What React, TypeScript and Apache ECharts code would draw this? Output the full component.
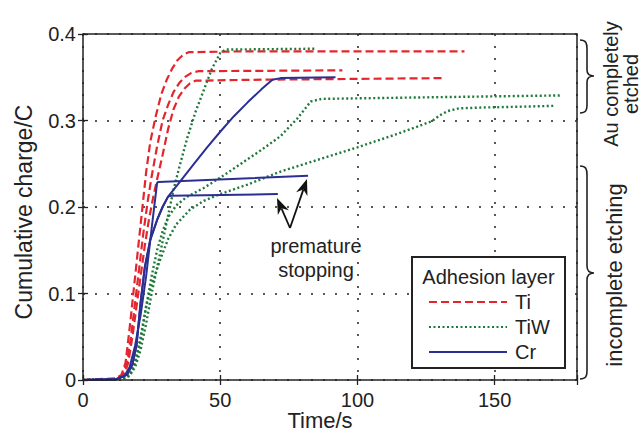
import React, { useEffect, useRef } from "react";
import * as echarts from "echarts";

// ---- data (time in s, cumulative charge in C) ----
const xTickValues = [0, 50, 100, 150];
const yTickValues = [0, 0.1, 0.2, 0.3, 0.4];
const legendNames = ["Ti", "TiW", "Cr"];

const ti1: [number, number][] = [
  [0, 0], [12, 0.002], [14, 0.006], [15.5, 0.02], [17, 0.06], [18.5, 0.105], [20, 0.15],
  [21.5, 0.195], [23, 0.24], [24.5, 0.275], [26.5, 0.305], [28.5, 0.33], [30.5, 0.347],
  [32.5, 0.36], [34.5, 0.37], [36.5, 0.376], [38.5, 0.379], [60, 0.38], [139, 0.38],
];
const ti2: [number, number][] = [
  [0, 0], [12, 0.001], [14.5, 0.006], [16, 0.02], [17.5, 0.05], [19, 0.09], [20.5, 0.13],
  [22, 0.17], [23.5, 0.205], [25, 0.235], [27, 0.27], [29, 0.3], [31, 0.318], [33, 0.333],
  [35, 0.343], [37, 0.35], [39.5, 0.355], [42, 0.357], [94.5, 0.358],
];
const ti3: [number, number][] = [
  [0, 0], [12, 0.001], [15, 0.006], [16.5, 0.02], [18, 0.05], [19.5, 0.085], [21, 0.12],
  [22.5, 0.155], [24, 0.185], [25.5, 0.21], [27, 0.232], [29, 0.26], [31, 0.29], [33, 0.313],
  [35, 0.328], [37, 0.337], [39, 0.343], [41, 0.346], [60, 0.347], [131, 0.349],
];
const tiw1: [number, number][] = [
  [0, 0], [14, 0.001], [17, 0.005], [19, 0.015], [21, 0.035], [23, 0.065], [25, 0.1],
  [27, 0.13], [29, 0.16], [31, 0.19], [33, 0.22], [35, 0.245], [38, 0.28], [41, 0.31],
  [44, 0.335], [47, 0.36], [50, 0.378], [52, 0.382], [85, 0.383],
];
const tiw2: [number, number][] = [
  [0, 0], [14, 0.001], [17, 0.006], [19, 0.02], [21, 0.05], [23, 0.085], [25, 0.12],
  [27, 0.15], [29, 0.172], [31, 0.188], [34, 0.202], [38, 0.212], [44, 0.222], [51, 0.236],
  [58, 0.251], [65, 0.266], [72, 0.282], [78, 0.302], [83, 0.322], [87, 0.325], [130, 0.327],
  [174, 0.329],
];
const tiw3: [number, number][] = [
  [0, 0], [14, 0.001], [17, 0.005], [19, 0.02], [21, 0.045], [23, 0.085], [25, 0.11],
  [28, 0.138], [31, 0.163], [34, 0.18], [39, 0.197], [44, 0.207], [50, 0.215], [60, 0.226],
  [72, 0.241], [85, 0.254], [100, 0.269], [115, 0.285], [127, 0.299], [130, 0.306],
  [133, 0.311], [137, 0.314], [145, 0.315], [160, 0.316], [172, 0.317],
];
const cr1: [number, number][] = [
  [0, 0], [12, 0.001], [16, 0.006], [18, 0.018], [19.5, 0.04], [21, 0.09], [22.5, 0.13],
  [24.5, 0.162], [27, 0.185], [29, 0.2], [31, 0.212], [35, 0.228], [40, 0.248], [45, 0.268],
  [50, 0.287], [55, 0.305], [60, 0.321], [65, 0.336], [69, 0.347], [72, 0.349], [92, 0.35],
];
const cr2: [number, number][] = [
  [0, 0], [12, 0.001], [15, 0.004], [17, 0.015], [19, 0.04], [21, 0.075], [23, 0.12],
  [25, 0.175], [27, 0.228], [27.5, 0.229], [82, 0.236],
];
const cr3: [number, number][] = [
  [0, 0], [12, 0.001], [16, 0.006], [18, 0.018], [19.5, 0.04], [21, 0.09], [22.5, 0.13],
  [24.5, 0.162], [27, 0.185], [29, 0.2], [31, 0.212], [32, 0.213], [71, 0.215],
];

const FONT = "Liberation Sans, Arial, sans-serif";
const TXT = "#222";

export default function App() {
  const ref = useRef<HTMLDivElement>(null);

  useEffect(() => {
    if (!ref.current) return;
    echarts.graphic.registerShape(
      "braceTop",
      echarts.graphic.extendPath(
        "M580,40 C586,40 587,43 587,49 L587,70 C587,74 589,76 594,76 C589,76 587,78 587,82 L587,105 C587,110 586,113 580,113",
        {}
      )
    );
    echarts.graphic.registerShape(
      "braceBottom",
      echarts.graphic.extendPath(
        "M580,166 C586,166 587,169 587,175 L587,266 C587,270 589,273 594,273 C589,273 587,276 587,280 L587,371 C587,376 586,379 580,379",
        {}
      )
    );

    const arrow = (tail: number[], tip: number[]) => {
      const dx = tip[0] - tail[0];
      const dy = tip[1] - tail[1];
      const len = Math.hypot(dx, dy);
      const ux = dx / len, uy = dy / len;
      const L = 16, W = 6;
      const bx = tip[0] - ux * L, by = tip[1] - uy * L;
      const nx = tip[0] - ux * (L * 0.7), ny = tip[1] - uy * (L * 0.7);
      return [
        { type: "line", z: 70, shape: { x1: tail[0], y1: tail[1], x2: nx, y2: ny }, style: { stroke: "#111", lineWidth: 1.8 } },
        {
          type: "polygon", z: 70,
          shape: { points: [tip, [bx - uy * W, by + ux * W], [nx, ny], [bx + uy * W, by - ux * W]] },
          style: { fill: "#111" },
        },
      ];
    };

    const chart = echarts.init(ref.current, null, { renderer: "svg" });
    const styles: any = {
      Ti: { color: "#e3262e", type: [8, 4], width: 2.2 },
      TiW: { color: "#1f7a3a", type: [2, 2.5], width: 2.4 },
      Cr: { color: "#2b2f93", type: "solid", width: 2 },
    };
    const mk = (name: string, data: [number, number][]) => {
      const s = styles[name];
      return {
        type: "line", name, data, showSymbol: false, symbol: "none", z: 3,
        itemStyle: { color: s.color },
        lineStyle: { color: s.color, type: s.type, width: s.width },
      };
    };

    const tickStyle = { show: true, inside: true, length: 5, lineStyle: { color: "#222", width: 1.3 } };
    const gridDots = { show: true, lineStyle: { color: "#222", type: [2, 10], width: 1.5 } };

    const option: any = {
      animation: false,
      backgroundColor: "#fff",
      textStyle: { fontFamily: FONT },
      grid: { left: 83, top: 34, width: 494, height: 346, show: true, borderColor: "#222", borderWidth: 1.5, z: 4 },
      xAxis: [
        {
          type: "value", min: 0, max: 180, interval: 50,
          axisLine: { show: false },
          axisTick: tickStyle,
          axisLabel: {
            fontSize: 20, color: TXT, margin: 10, fontFamily: FONT,
            formatter: (v: number) => (xTickValues.indexOf(v) >= 0 ? String(v) : ""),
          },
          splitLine: gridDots,
        },
        {
          type: "value", min: 0, max: 180, interval: 50, position: "top",
          axisLine: { show: false }, axisTick: tickStyle,
          axisLabel: { show: false }, splitLine: { show: false },
        },
      ],
      yAxis: [
        {
          type: "value", min: 0, max: 0.4, interval: 0.1,
          axisLine: { show: false }, axisTick: tickStyle,
          axisLabel: {
            fontSize: 20, color: TXT, margin: 7, fontFamily: FONT,
            formatter: (v: number) => {
              const m = yTickValues.find((t) => Math.abs(t - v) < 1e-9);
              return m === undefined ? "" : String(m);
            },
          },
          splitLine: gridDots,
        },
        {
          type: "value", min: 0, max: 0.4, interval: 0.1, position: "right",
          axisLine: { show: false }, axisTick: tickStyle,
          axisLabel: { show: false }, splitLine: { show: false },
        },
      ],
      legend: {
        data: legendNames, orient: "vertical", left: 423, top: 287, z: 60,
        itemWidth: 78, itemHeight: 20, itemGap: 5,
        itemStyle: { opacity: 0, color: "rgba(0,0,0,0)", borderWidth: 0 },
        textStyle: { fontSize: 20, color: TXT, fontFamily: FONT, padding: [0, 0, 0, 3] },
        selectedMode: false,
      },
      series: [
        mk("Ti", ti1), mk("Ti", ti2), mk("Ti", ti3),
        mk("TiW", tiw1), mk("TiW", tiw2), mk("TiW", tiw3),
        mk("Cr", cr1), mk("Cr", cr2), mk("Cr", cr3),
      ],
      graphic: [
        { type: "rect", z: 50, shape: { x: 412, y: 257, width: 153, height: 111 }, style: { fill: "#fff", stroke: "#222", lineWidth: 2 } },
        { type: "text", z: 60, x: 488.5, y: 277, style: { text: "Adhesion layer", font: `20px ${FONT}`, fill: TXT, textAlign: "center", textVerticalAlign: "middle" } },
        { type: "text", z: 60, x: 24, y: 212, rotation: Math.PI / 2, style: { text: "Cumulative charge/C", font: `23px ${FONT}`, fill: TXT, textAlign: "center", textVerticalAlign: "middle" } },
        { type: "text", z: 60, x: 320, y: 420, style: { text: "Time/s", font: `22px ${FONT}`, fill: TXT, textAlign: "center", textVerticalAlign: "middle" } },
        { type: "text", z: 60, x: 316, y: 258, style: { text: "premature\nstopping", font: `20px ${FONT}`, lineHeight: 24, fill: TXT, textAlign: "center", textVerticalAlign: "middle" } },
        { type: "text", z: 60, x: 621, y: 84, rotation: Math.PI / 2, style: { text: "Au completely\netched", font: `20px ${FONT}`, lineHeight: 20, fill: TXT, textAlign: "center", textVerticalAlign: "middle" } },
        { type: "text", z: 60, x: 614, y: 275, rotation: Math.PI / 2, style: { text: "incomplete etching", font: `22px ${FONT}`, fill: TXT, textAlign: "center", textVerticalAlign: "middle" } },
        { type: "braceTop", z: 60, style: { fill: "none", stroke: "#222", lineWidth: 1.6 } },
        { type: "braceBottom", z: 60, style: { fill: "none", stroke: "#222", lineWidth: 1.6 } },
        ...arrow([290, 228], [307, 179]),
        ...arrow([290, 228], [277, 198]),
      ],
    };
    chart.setOption(option);
    return () => chart.dispose();
  }, []);

  return (
    <div
      ref={ref}
      style={{ position: "absolute", left: 0, top: 0, width: 644, height: 434, background: "#fff" }}
    />
  );
}
